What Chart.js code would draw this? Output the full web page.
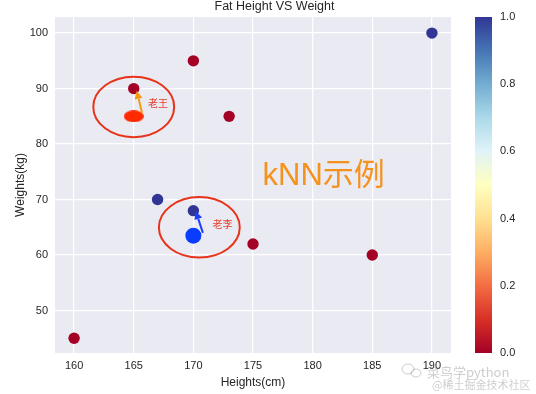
<!DOCTYPE html>
<html lang="zh">
<head>
  <meta charset="UTF-8" />
  <title>Fat Height VS Weight</title>
  <script src="https://cdn.jsdelivr.net/npm/chart.js"></script>
  <style>
    body { margin: 0; background: #fff; }
    .wrap { width: 536px; height: 394px; position: relative; }
  </style>
</head>
<body>
  <div class="wrap">
    <canvas id="chart" width="536" height="394"></canvas>
  </div>

  <script>
    // training points
    const heights = [160, 165, 167, 170, 170, 173, 175, 185, 190];
    const weights = [45, 90, 70, 95, 68, 85, 62, 60, 100];
    const classes = [0, 0, 1, 0, 1, 0, 0, 0, 1];

    // the two new points (老王, 老李)
    const newHeights = [165, 170];
    const newWeights = [85, 63.5];

    // ticks
    const xTicks = [160, 165, 170, 175, 180, 185, 190];
    const yTicks = [50, 60, 70, 80, 90, 100];
    const cbTicks = [0, 0.2, 0.4, 0.6, 0.8, 1.0];

    // annotations, in data units
    const circleX = [165, 170.5];
    const circleY = [86.7, 65.0];
    const arrowFromX = [165.7, 170.8];
    const arrowFromY = [85.6, 64.0];
    const arrowToX = [165.25, 170.2];
    const arrowToY = [89.6, 67.9];
    const noteText = ['老王', '老李'];
    const noteX = [166.2, 171.6];
    const noteY = [87.4, 65.6];

    const FONT = '"Liberation Sans", Arial, "Noto Sans CJK SC", sans-serif';
    const TXT = '#262626';

    // RdYlBu
    const rdylbu = ['#a50026', '#d73027', '#f46d43', '#fdae61', '#fee090', '#ffffbf',
                    '#e0f3f8', '#abd9e9', '#74add1', '#4575b4', '#313695'];

    // wide red marker for 老王
    const wangMarker = document.createElement('canvas');
    wangMarker.width = 20; wangMarker.height = 12;
    (function () {
      const c = wangMarker.getContext('2d');
      c.fillStyle = '#ff2a00';
      c.beginPath();
      c.ellipse(10, 6, 10, 6, 0, 0, Math.PI * 2);
      c.fill();
    })();

    const extras = {
      id: 'extras',
      beforeDraw(chart) {
        const { ctx, chartArea: a } = chart;
        ctx.save();
        ctx.fillStyle = '#fff';
        ctx.fillRect(0, 0, chart.width, chart.height);
        ctx.fillStyle = '#eaeaf2';
        ctx.fillRect(a.left, a.top, a.right - a.left, a.bottom - a.top);
        ctx.restore();
      },
      afterDatasetsDraw(chart) {
        const { ctx } = chart;
        const x = chart.scales.x, y = chart.scales.y, cb = chart.scales.cb;
        const px = v => x.getPixelForValue(v);
        const py = v => y.getPixelForValue(v);
        ctx.save();

        // red circles
        ctx.strokeStyle = '#e8331b';
        ctx.lineWidth = 2;
        for (let i = 0; i < circleX.length; i++) {
          const rx = px(circleX[i] + 3.39) - px(circleX[i]);
          const ry = py(circleY[i]) - py(circleY[i] + 5.45);
          ctx.beginPath();
          ctx.ellipse(px(circleX[i]), py(circleY[i]), rx, ry, 0, 0, Math.PI * 2);
          ctx.stroke();
        }

        // arrows
        const arrowColors = ['#f39c12', '#1e3cff'];
        for (let i = 0; i < arrowFromX.length; i++) {
          const x0 = px(arrowFromX[i]), y0 = py(arrowFromY[i]);
          const x1 = px(arrowToX[i]), y1 = py(arrowToY[i]);
          const ang = Math.atan2(y1 - y0, x1 - x0);
          const hl = 8, hw = 4;
          const bx = x1 - hl * Math.cos(ang), by = y1 - hl * Math.sin(ang);
          ctx.strokeStyle = arrowColors[i];
          ctx.fillStyle = arrowColors[i];
          ctx.lineWidth = 2;
          ctx.beginPath();
          ctx.moveTo(x0, y0);
          ctx.lineTo(bx, by);
          ctx.stroke();
          ctx.beginPath();
          ctx.moveTo(x1, y1);
          ctx.lineTo(bx + hw * Math.sin(ang), by - hw * Math.cos(ang));
          ctx.lineTo(bx - hw * Math.sin(ang), by + hw * Math.cos(ang));
          ctx.closePath();
          ctx.fill();
        }

        // names
        ctx.fillStyle = '#e8402a';
        ctx.font = '10px "Noto Sans CJK SC", sans-serif';
        ctx.textAlign = 'left';
        ctx.textBaseline = 'middle';
        for (let i = 0; i < noteText.length; i++) {
          ctx.fillText(noteText[i], px(noteX[i]), py(noteY[i]));
        }

        // big label
        ctx.fillStyle = '#f5921e';
        ctx.font = '31px "Liberation Sans", "Noto Sans CJK SC", sans-serif';
        ctx.textBaseline = 'alphabetic';
        ctx.fillText('kNN示例', px(175.8), py(72.7));

        // colorbar
        const top = cb.getPixelForValue(1), bot = cb.getPixelForValue(0);
        const left = cb.left + 24;
        const g = ctx.createLinearGradient(0, bot, 0, top);
        rdylbu.forEach((c, i) => g.addColorStop(i / (rdylbu.length - 1), c));
        ctx.fillStyle = g;
        ctx.fillRect(left, top, 17, bot - top);

        // watermark
        ctx.fillStyle = 'rgba(130,130,130,0.4)';
        ctx.font = '13px "Noto Sans CJK SC", sans-serif';
        ctx.fillText('菜鸟学python', 427, 377);
        ctx.font = '11px "Noto Sans CJK SC", sans-serif';
        ctx.fillText('@稀土掘金技术社区', 432, 389);
        ctx.strokeStyle = 'rgba(130,130,130,0.4)';
        ctx.lineWidth = 1;
        ctx.beginPath();
        ctx.ellipse(408, 369, 6, 5, 0, 0, Math.PI * 2);
        ctx.stroke();
        ctx.beginPath();
        ctx.ellipse(416, 373, 5, 4, 0, 0, Math.PI * 2);
        ctx.stroke();

        ctx.restore();
      }
    };

    const tickFont = { family: FONT, size: 11 };

    new Chart(document.getElementById('chart'), {
      type: 'scatter',
      data: {
        datasets: [
          {
            data: heights.map((h, i) => ({ x: h, y: weights[i] })),
            backgroundColor: classes.map(c => c ? rdylbu[10] : rdylbu[0]),
            borderWidth: 0,
            pointRadius: 5.7
          },
          {
            data: [{ x: newHeights[0], y: newWeights[0] }],
            pointStyle: wangMarker,
            pointRadius: 10
          },
          {
            data: [{ x: newHeights[1], y: newWeights[1] }],
            backgroundColor: '#0a3cff',
            borderWidth: 0,
            pointRadius: 8
          }
        ]
      },
      options: {
        responsive: false,
        animation: false,
        events: [],
        layout: { padding: { left: 13, right: 0, top: 0, bottom: 4 } },
        plugins: {
          legend: { display: false },
          tooltip: { enabled: false },
          title: {
            display: true,
            text: 'Fat Height VS Weight',
            color: TXT,
            font: { family: FONT, size: 12.5, weight: 'normal', lineHeight: 1 },
            padding: { top: 0, bottom: 4.5 }
          }
        },
        scales: {
          x: {
            type: 'linear',
            min: 158.4,
            max: 191.6,
            afterBuildTicks: s => { s.ticks = xTicks.map(v => ({ value: v })); },
            afterFit: s => { s.height = 37; s.paddingLeft = 0; s.paddingRight = 0; },
            ticks: { color: TXT, font: tickFont, padding: 6 },
            grid: { color: '#ffffff', lineWidth: 1.2, drawTicks: false },
            border: { display: false },
            title: { display: true, text: 'Heights(cm)', color: TXT, font: { family: FONT, size: 12 }, padding: 0 }
          },
          y: {
            type: 'linear',
            min: 42.35,
            max: 102.9,
            afterBuildTicks: s => { s.ticks = yTicks.map(v => ({ value: v })); },
            afterFit: s => { s.width = 42; s.paddingTop = 0; s.paddingBottom = 0; },
            ticks: { color: TXT, font: tickFont, padding: 7 },
            grid: { color: '#ffffff', lineWidth: 1.2, drawTicks: false },
            border: { display: false },
            title: { display: true, text: 'Weights(kg)', color: TXT, font: { family: FONT, size: 12 }, padding: 0 }
          },
          cb: {
            type: 'linear',
            position: 'right',
            min: 0,
            max: 1,
            afterBuildTicks: s => { s.ticks = cbTicks.map(v => ({ value: v })); },
            afterFit: s => { s.width = 85; s.paddingTop = 0; s.paddingBottom = 0; },
            ticks: { color: TXT, font: tickFont, padding: 49, callback: v => v.toFixed(1) },
            grid: { display: false, drawTicks: false },
            border: { display: false }
          }
        }
      },
      plugins: [extras]
    });
  </script>
</body>
</html>
